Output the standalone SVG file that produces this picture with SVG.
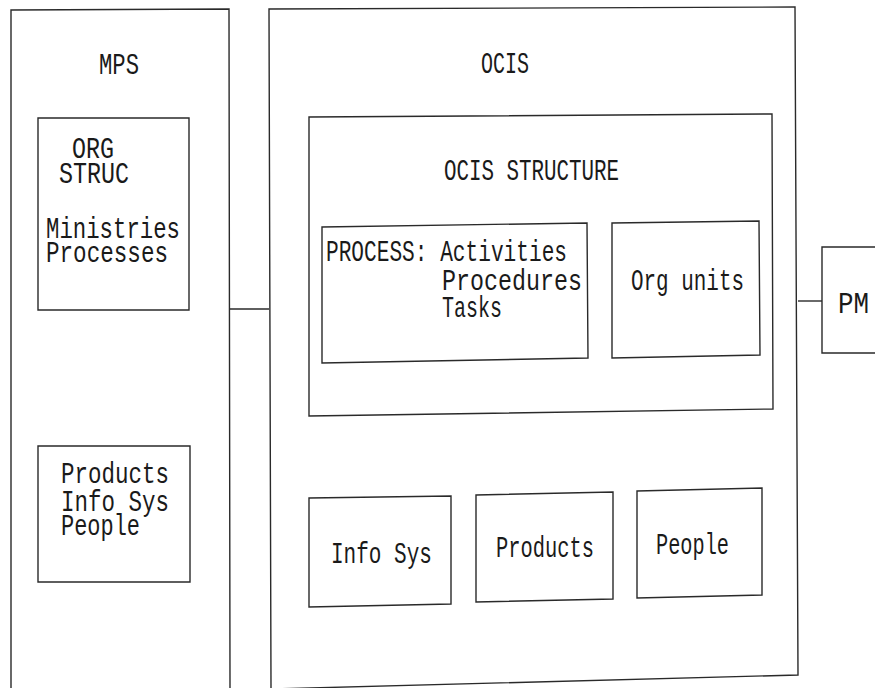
<svg xmlns="http://www.w3.org/2000/svg" width="875" height="688" viewBox="0 0 875 688">
<style>
.box{fill:none;stroke:#2a2a2a;stroke-width:1.4;stroke-linejoin:miter}
.conn{fill:none;stroke:#2a2a2a;stroke-width:1.4}
.t{font-family:"Liberation Mono","DejaVu Sans Mono",monospace;font-size:29px;fill:#1a1a1a}
</style>
<rect x="0" y="0" width="875" height="688" fill="#ffffff"/>
<g id="connectors">
<line class="conn" x1="230" y1="309" x2="269" y2="309"/>
<line class="conn" x1="798" y1="301" x2="822" y2="301"/>
</g>
<g id="mps">
<path class="box" d="M11,690 L11,10 L229,9 L230,690"/>
<text class="t" x="99" y="74" textLength="40" lengthAdjust="spacingAndGlyphs">MPS</text>
</g>
<g id="mps-org-struc">
<polygon class="box" points="38,118 189,118 189,310 38,310"/>
<text class="t" x="72" y="158" textLength="42" lengthAdjust="spacingAndGlyphs">ORG</text>
<text class="t" x="59" y="183" textLength="70" lengthAdjust="spacingAndGlyphs">STRUC</text>
<text class="t" x="46" y="238" textLength="134" lengthAdjust="spacingAndGlyphs">Ministries</text>
<text class="t" x="46" y="262" textLength="122" lengthAdjust="spacingAndGlyphs">Processes</text>
</g>
<g id="mps-products">
<polygon class="box" points="38,446 190,446 190,582 38,582"/>
<text class="t" x="61" y="483" textLength="108" lengthAdjust="spacingAndGlyphs">Products</text>
<text class="t" x="61" y="511" textLength="108" lengthAdjust="spacingAndGlyphs">Info Sys</text>
<text class="t" x="61" y="535" textLength="79" lengthAdjust="spacingAndGlyphs">People</text>
</g>
<g id="ocis">
<polygon class="box" points="269,9 795,7 798,675 271,689"/>
<text class="t" x="481" y="73" textLength="48" lengthAdjust="spacingAndGlyphs">OCIS</text>
</g>
<g id="ocis-structure">
<polygon class="box" points="309,117 772,114 773,409 309,416"/>
<text class="t" x="444" y="180" textLength="175" lengthAdjust="spacingAndGlyphs">OCIS STRUCTURE</text>
</g>
<g id="process">
<polygon class="box" points="322,227 587,223 588,358 322,363"/>
<text class="t" x="326" y="261" textLength="241" lengthAdjust="spacingAndGlyphs">PROCESS: Activities</text>
<text class="t" x="442" y="290" textLength="140" lengthAdjust="spacingAndGlyphs">Procedures</text>
<text class="t" x="442" y="317" textLength="60" lengthAdjust="spacingAndGlyphs">Tasks</text>
</g>
<g id="org-units">
<polygon class="box" points="612,223 759,221 760,355 612,358"/>
<text class="t" x="631" y="290" textLength="113" lengthAdjust="spacingAndGlyphs">Org units</text>
</g>
<g id="pm">
<path class="box" d="M880,247 L822,247 L822,353 L880,353"/>
<text class="t" x="838" y="313" textLength="31" lengthAdjust="spacingAndGlyphs">PM</text>
</g>
<g id="info-sys">
<polygon class="box" points="309,498 451,496 451,604 309,607"/>
<text class="t" x="331" y="563" textLength="101" lengthAdjust="spacingAndGlyphs">Info Sys</text>
</g>
<g id="products">
<polygon class="box" points="476,495 613,492 613,599 476,602"/>
<text class="t" x="496" y="557" textLength="98" lengthAdjust="spacingAndGlyphs">Products</text>
</g>
<g id="people">
<polygon class="box" points="637,491 762,488 762,595 637,598"/>
<text class="t" x="656" y="554" textLength="73" lengthAdjust="spacingAndGlyphs">People</text>
</g>
</svg>
